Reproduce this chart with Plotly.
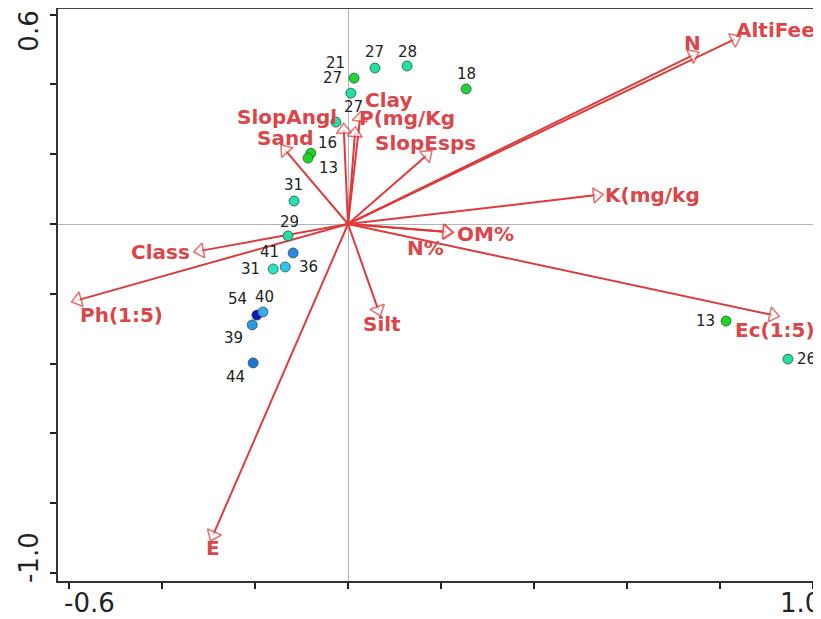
import plotly.graph_objects as go

# Environmental variable vectors (arrow tips)
env_names = ["AltiFeet", "N", "K(mg/kg", "Ec(1:5)", "OM%", "N%", "Silt", "E",
             "Ph(1:5)", "Class", "Sand", "SlopAngl", "Clay", "P(mg/Kg", "SlopEsps"]
env_x = [0.832, 0.742, 0.535, 0.914, 0.213, 0.211, 0.065, -0.290,
         -0.581, -0.318, -0.135, -0.009, 0.026, 0.015, 0.170]
env_y = [0.530, 0.484, 0.083, -0.261, -0.023, -0.022, -0.246, -0.891,
         -0.218, -0.077, 0.212, 0.270, 0.304, 0.260, 0.198]
# label offsets in px (xshift, yshift, anchor)
env_lab = [(-1, 9, "left"), (-1, 12, "center"), (6, 0, "left"), (-40, -15, "left"),
           (8, -2, "left"), (-21, -16, "center"), (4, -14, "center"), (0, -13, "center"),
           (44, -15, "center"), (-40, -1, "center"), (0, 12, "center"), (-57, 13, "center"),
           (28, 18, "center"), (52, 15, "center"), (-2, 12, "center")]

# Sites
site_labels = ["21", "27", "27", "28", "18", "27", "16", "13", "31", "29",
               "41", "31", "36", "54", "40", "39", "44", "13", "26"]
site_x = [0.013, 0.006, 0.058, 0.127, 0.254, -0.026, -0.080, -0.086, -0.116, -0.129,
          -0.118, -0.161, -0.135, -0.196, -0.183, -0.206, -0.204, 0.813, 0.946]
site_y = [0.418, 0.375, 0.447, 0.453, 0.387, 0.292, 0.203, 0.189, 0.066, -0.034,
          -0.083, -0.129, -0.123, -0.261, -0.252, -0.289, -0.398, -0.278, -0.387]
site_colors = ["#22d43a", "#22dfa6", "#22dfa6", "#22dfa6", "#22d43a", "#22dfa6", "#1ed424", "#1ed424",
               "#26dfb8", "#24dba2", "#2a86e0", "#2ee2c8", "#30c4ea", "#1414c4", "#38aaf0",
               "#2a9ae8", "#1f74d8", "#1ed424", "#26dca4"]
site_off = [(-19, 15), (-18, 15), (0, 16), (0, 14), (0, 15), (18, 15), (17, 10), (20, -10),
            (-1, 16), (1, 14), (-24, 1), (-23, 0), (23, 0), (-19, 16), (2, 15),
            (-19, -13), (-18, -14), (-21, 0), (19, 0)]

# Axis ticks; only the end values are labelled
tickx = [-0.6, -0.4, -0.2, 0.0, 0.2, 0.4, 0.6, 0.8, 1.0]
ticky = [0.6, 0.4, 0.2, 0.0, -0.2, -0.4, -0.6, -0.8, -1.0]
xlab_vals = [-0.6, 1.0]
xlab_text = ["-0.6", "1.0"]
ylab_vals = [0.6, -1.0]
ylab_text = ["0.6", "-1.0"]

RED = "#dc3c3c"
LRED = "#d9474b"
FONT = "DejaVu Sans, Arial"

fig = go.Figure()

for name, tx, ty in zip(env_names, env_x, env_y):
    fig.add_trace(go.Scatter(
        x=[0, tx], y=[0, ty], mode="lines+markers",
        line=dict(color=RED, width=2),
        marker=dict(symbol=["circle", "triangle-up"], size=[0, 13], angleref="previous",
                    color="white", line=dict(color=RED, width=1.6)),
        hoverinfo="skip", showlegend=False))

fig.add_trace(go.Scatter(
    x=site_x, y=site_y, mode="markers",
    marker=dict(size=10, color=site_colors, line=dict(color="#2a5a3a", width=0.8)),
    showlegend=False, hoverinfo="skip"))

annotations = []
for name, tx, ty, (dx, dy, anc) in zip(env_names, env_x, env_y, env_lab):
    annotations.append(dict(x=tx, y=ty, text="<b>" + name + "</b>", showarrow=False,
                            xshift=dx, yshift=dy, xanchor=anc, yanchor="middle",
                            font=dict(family=FONT, size=20, color=LRED)))
for lab, sx, sy, (dx, dy) in zip(site_labels, site_x, site_y, site_off):
    annotations.append(dict(x=sx, y=sy, text=lab, showarrow=False,
                            xshift=dx, yshift=dy, xanchor="center", yanchor="middle",
                            font=dict(family=FONT, size=15, color="#222222")))

tick_font = dict(family=FONT, size=26, color="#222222")
for v, t, dx in zip(xlab_vals, xlab_text, [20, -13]):
    annotations.append(dict(x=v, xref="x", y=0, yref="paper", text=t, showarrow=False,
                            xshift=dx, yshift=-22, xanchor="center", yanchor="middle",
                            font=tick_font))
for v, t, dy in zip(ylab_vals, ylab_text, [-17, 15]):
    annotations.append(dict(x=0, xref="paper", y=v, yref="y", text=t, showarrow=False,
                            xshift=-29, yshift=dy, xanchor="center", yanchor="middle",
                            textangle=-90, font=tick_font))

# page body has an 8px margin, so the figure is sized to fit the window
fig.update_layout(
    width=813, height=611,
    margin=dict(l=50, r=0, t=0, b=38),
    plot_bgcolor="white", paper_bgcolor="white",
    annotations=annotations,
    shapes=[dict(type="line", xref="paper", yref="paper", x0=0, x1=1, y0=1, y1=1,
                 line=dict(color="#444444", width=2))],
    xaxis=dict(range=[-0.6237, 1.0172], showgrid=False, zeroline=True, automargin=False,
               zerolinecolor="#b4b4b4", zerolinewidth=1,
               showline=True, linecolor="#333333", linewidth=2,
               ticks="outside", ticklen=6, tickwidth=2, tickcolor="#222222",
               tickvals=tickx, ticktext=[""] * len(tickx)),
    yaxis=dict(range=[-1.0229, 0.619], showgrid=False, zeroline=True, automargin=False,
               zerolinecolor="#b4b4b4", zerolinewidth=1,
               showline=True, linecolor="#333333", linewidth=2,
               ticks="outside", ticklen=6, tickwidth=2, tickcolor="#222222",
               tickvals=ticky, ticktext=[""] * len(ticky)),
)

fig.write_html("out.html")
